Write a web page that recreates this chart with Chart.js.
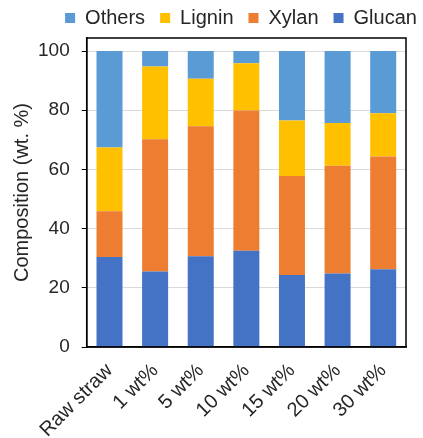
<!DOCTYPE html>
<html lang="en">
<head>
  <meta charset="UTF-8">
  <title>Composition</title>
  <script src="https://cdn.jsdelivr.net/npm/chart.js"></script>
  <style>
    html, body { margin: 0; padding: 0; background: #fff; }
    #wrap { width: 423px; height: 438px; }
  </style>
</head>
<body>
<div id="wrap"><canvas id="compChart" width="423" height="438"></canvas></div>

<script>
  const categories = ["Raw straw", "1 wt%", "5 wt%", "10 wt%", "15 wt%", "20 wt%", "30 wt%"];
  const glucan = [30.4, 25.5, 30.7, 32.5, 24.3, 24.8, 26.3];
  const xylan  = [15.5, 44.7, 43.9, 47.4, 33.5, 36.4, 38.1];
  const lignin = [21.5, 24.6, 16.0, 16.0, 18.7, 14.5, 14.6];
  const others = [32.6, 5.2, 9.4, 4.1, 23.5, 24.3, 21.0];
  const yTicks = [0, 20, 40, 60, 80, 100];

  const font = "'Liberation Sans', Arial, sans-serif";
  const textColor = "#262626";

  // box around the plot area
  const frame = {
    id: "frame",
    afterDraw(chart) {
      const a = chart.chartArea, c = chart.ctx;
      c.save();
      c.strokeStyle = "#000";
      c.lineWidth = 1.5;
      c.strokeRect(a.left, a.top, a.right - a.left, a.bottom - a.top);
      c.restore();
    }
  };

  // legend sits a bit right of the canvas centre in the original
  const legendShift = {
    id: "legendShift",
    afterLayout(chart) {
      chart.legend.left += 35;
      chart.legend.right += 35;
    }
  };

  function ds(label, data, color) {
    return { label, data, backgroundColor: color, barPercentage: 0.57, categoryPercentage: 1 };
  }

  new Chart(document.getElementById("compChart"), {
    type: "bar",
    data: {
      labels: categories,
      datasets: [
        ds("Glucan", glucan, "#4472C4"),
        ds("Xylan", xylan, "#ED7D31"),
        ds("Lignin", lignin, "#FFC000"),
        ds("Others", others, "#5B9BD5")
      ]
    },
    options: {
      responsive: false,
      animation: false,
      layout: { padding: { left: 6, right: 17, top: -7, bottom: -16 } },
      plugins: {
        legend: {
          position: "top",
          reverse: true,
          labels: {
            font: { family: font, size: 20 },
            color: textColor,
            boxWidth: 10,
            boxHeight: 10,
            padding: 15
          }
        },
        tooltip: { enabled: false }
      },
      scales: {
        x: {
          stacked: true,
          grid: { display: false, drawTicks: false },
          border: { color: "#000", width: 1.5 },
          // rotated labels may hang past the y axis, don't let them push the plot
          afterFit(axis) {
            axis.paddingLeft = 0;
            axis.paddingRight = 0;
          },
          ticks: {
            font: { family: font, size: 20 },
            color: textColor,
            minRotation: 45,
            maxRotation: 45,
            padding: 12,
            autoSkip: false
          }
        },
        y: {
          stacked: true,
          min: 0,
          max: 104.4,
          afterBuildTicks(axis) {
            axis.ticks = yTicks.map(v => ({ value: v }));
          },
          // chart.js reserves the tick padding twice; drop the spare one
          afterFit(axis) {
            axis.width -= axis.options.ticks.padding;
          },
          grid: {
            color: ctx => ctx.tick && ctx.tick.value === 0 ? "rgba(0,0,0,0)" : "#d9d9d9",
            tickColor: "#000",
            tickLength: 5,
            drawOnChartArea: true
          },
          border: { color: "#000", width: 1.5 },
          ticks: {
            font: { family: font, size: 19 },
            color: textColor,
            padding: 12
          },
          title: {
            display: true,
            text: "Composition (wt. %)",
            font: { family: font, size: 20 },
            color: textColor,
            padding: 4
          }
        }
      }
    },
    plugins: [frame, legendShift]
  });
</script>
</body>
</html>
